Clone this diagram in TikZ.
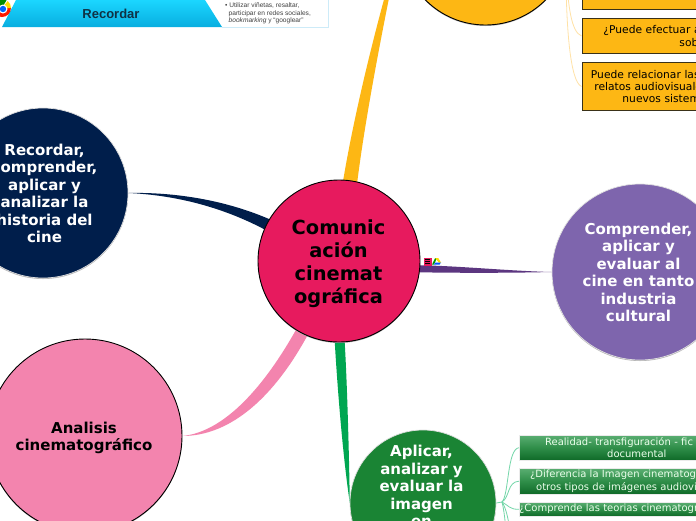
\documentclass[tikz,border=0pt]{standalone}
\usepackage{fontspec}
\setmainfont{DejaVu Sans}
\newfontfamily\banfont{Liberation Sans}
\definecolor{cpink}{HTML}{E71A5E}
\definecolor{cnavy}{HTML}{001E4B}
\definecolor{cpurple}{HTML}{7E65AD}
\definecolor{cdpurple}{HTML}{5C3680}
\definecolor{crose}{HTML}{F384AE}
\definecolor{cgreen}{HTML}{1A8434}
\definecolor{cbgreen}{HTML}{00A651}
\definecolor{cyellow}{HTML}{FDB714}
\definecolor{cthiny}{HTML}{FFE2A6}
\definecolor{cthing}{HTML}{72D6A8}
\definecolor{gtop}{HTML}{5AAE72}
\definecolor{gmid}{HTML}{2F8E49}
\definecolor{gbot}{HTML}{0F6A28}
\definecolor{bantop}{HTML}{1BD6FF}
\definecolor{banbot}{HTML}{08AEE0}
\definecolor{bantxt}{HTML}{0F3244}
\definecolor{banline}{HTML}{CDEBF8}
\definecolor{yborder}{HTML}{3A3118}
\tikzset{
  x=1pt,y=-1pt,
  softshadow/.style={preaction={draw=none,fill=black!30,transform canvas={yshift=-1pt}}},
  bubble/.style={circle,inner sep=0pt,minimum size=#1,softshadow},
  blackring/.style={draw=black,line width=0.9pt},
  paleRing/.style={draw=black!12,line width=0.7pt},
  bigtext/.style={align=center,inner sep=0pt,font=\bfseries\fontsize{15}{17.4}\selectfont},
  ybox/.style={anchor=north west,draw=yborder,fill=cyellow,line width=0.9pt,inner sep=0pt,
    text width=300pt,align=left,text=black,softshadow,font=\fontsize{10.7}{12.4}\selectfont},
  gbox/.style={anchor=north west,draw=black!8,line width=0.3pt,top color=gtop,bottom color=gbot,
    middle color=gmid,inner sep=0pt,text width=300pt,align=left,text=white!92!green,
    font=\fontsize{10}{12.2}\selectfont},
  thiny/.style={draw=cthiny,line width=0.8pt},
  thing/.style={draw=cthing,line width=0.8pt},
}
\begin{document}
\begin{tikzpicture}
\useasboundingbox (0,0) rectangle (696,520);
\clip (0,0) rectangle (696,520);
\fill[white] (0,0) rectangle (696,520);

% banner picture, top left
\node[inner sep=0pt,minimum width=106pt,minimum height=27pt,anchor=north west,fill=white] (panel) at (222,0) {};
\draw[draw=banline,line width=0.8pt] (328,0) -- (328,27) -- (222,27);
\shade[top color=bantop,bottom color=banbot] (16,0) -- (205,0) -- (222,27) -- (2,27) -- cycle;
\fill[red!80!orange] (-7,8) arc[start angle=180,end angle=0,radius=9] -- cycle;
\fill[yellow!80!orange] (2,8) -- (11,8) arc[start angle=0,end angle=-50,radius=9] -- cycle;
\fill[green!55!black] (-7,8) arc[start angle=180,end angle=300,radius=9] -- (2,8) -- cycle;
\fill[white] (3,9) circle[radius=4.5];
\fill[blue!60!cyan] (3,9) circle[radius=3.2];
\node[inner sep=0pt,text=bantxt,font=\banfont\bfseries\fontsize{13}{14}\selectfont] (bantitle) at (111,13.5) {Recordar};
\node[anchor=west,inner sep=0pt,align=left,text=black!75,font=\banfont\fontsize{6.6}{7.3}\selectfont] (bantext) at (225,13.5)
  {\textbullet\ Utilizar viñetas, resaltar,\\ \hspace*{3.5pt}participar en redes sociales,\\ \hspace*{3.5pt}\textit{bookmarking} y “googlear”};

% circles (placed first so the connectors can name them; painted again on top)
\path (339,261) node[circle,inner sep=0pt,minimum size=162pt] (central) {};
\path (43,193) node[circle,inner sep=0pt,minimum size=170pt] (recordar) {};
\path (640,272) node[circle,inner sep=0pt,minimum size=176pt] (comprender) {};
\path (85,436) node[circle,inner sep=0pt,minimum size=194pt] (analisis) {};
\path (423,503) node[circle,inner sep=0pt,minimum size=146pt] (aplicar) {};
\path (485.5,-59.5) node[circle,inner sep=0pt,minimum size=169pt] (amarillo) {};

% boxes
\node[ybox,minimum height=36pt] (y0) at (581.5,-27) {};
\node[ybox,minimum height=35pt] (y1) at (581.5,18) {\hspace*{21.5pt}¿Puede efectuar a\\ \hspace*{97.5pt}sob};
\node[ybox,minimum height=48pt] (y2) at (581.5,62) {\hspace*{9pt}Puede relacionar las\\ \hspace*{12.5pt}relatos audiovisuale\\ \hspace*{40.5pt}nuevos sistem};
\node[gbox,minimum height=25pt] (g1) at (519,435) {\hspace*{26pt}Realidad- transfiguración - fic\\ \hspace*{88pt}documental};
\node[gbox,minimum height=26pt] (g2) at (519,468) {\hspace*{11pt}¿Diferencia la Imagen cinematog\\ \hspace*{17pt}otros tipos de imágenes audiovi};
\node[gbox,minimum height=14pt] (g3) at (519,502) {¿Comprende las teorias cinematogr};

% tapered branches
\fill[cnavy] (recordar.0) .. controls (175,192) and (225,200) .. (central.149)
  -- (central.157) .. controls (222,207) and (175,195) .. (recordar.0) -- cycle;
\fill[crose] (analisis.0) .. controls (225,432) and (265,385) .. (central.238)
  -- (central.247) .. controls (275,395) and (232,436) .. (analisis.0) -- cycle;
\fill[cbgreen] (central.267) .. controls (337,380) and (342,450) .. (aplicar.180)
  -- (aplicar.180) .. controls (349,450) and (347,380) .. (central.274) -- cycle;
\fill[cdpurple] (central.357) .. controls (460,266) and (510,271) .. (comprender.180)
  -- (comprender.180) .. controls (510,273) and (460,273) .. (central.352) -- cycle;
\fill[cyellow] (central.87) .. controls (355,110) and (377,20) .. (amarillo.180)
  -- (amarillo.180) .. controls (382,30) and (365,120) .. (central.77) -- cycle;

% thin branches
\coordinate (jg) at (502,502);
\coordinate (jy) at (566,-30);
\coordinate (gd1) at (506,530);
\coordinate (gd2) at (510,530);
\draw[thing] (aplicar.0) -- (jg);
\draw[thing] (jg) .. controls (509,495) and (507,449) .. (g1.west);
\draw[thing] (jg) .. controls (510,497) and (507,482) .. (g2.west);
\draw[thing] (jg) .. controls (508,505) and (510,510) .. (g3.west);
\draw[thing] (jg) .. controls (504,510) and (505,520) .. (gd1);
\draw[thing] (jg) .. controls (506,508) and (508,518) .. (gd2);
\draw[thiny] (jy) .. controls (568,5) and (571,32) .. (y1.west);
\draw[thiny] (jy) .. controls (566,25) and (570,82) .. (y2.west);

% circles
\node[bubble=162pt,blackring,fill=cpink] (centralc) at (central) {};
\node[bubble=170pt,paleRing,fill=cnavy] (recordarc) at (recordar) {};
\node[bubble=176pt,paleRing,fill=cpurple] (comprenderc) at (comprender) {};
\node[bubble=194pt,blackring,fill=crose] (analisisc) at (analisis) {};
\node[bubble=146pt,paleRing,fill=cgreen] (aplicarc) at (aplicar) {};
\node[bubble=169pt,blackring,fill=cyellow] (amarilloc) at (amarillo) {};

% circle texts
\node[align=center,inner sep=0pt,font=\bfseries\fontsize{19.4}{23}\selectfont] (tcentral) at (338.5,263.5) {Comunic\\ación\\cinemat\\ográfica};
\node[bigtext,text=white] (trecordar) at (44.5,193.5) {Recordar,\\comprender,\\aplicar y\\analizar la\\historia del\\cine};
\node[bigtext,text=white] (tcomprender) at (638.5,272.5) {Comprender,\\aplicar y\\evaluar al\\cine en tanto\\industria\\cultural};
\node[bigtext,text=black] (tanalisis) at (84,438) {Analisis\\cinematográfico};
\node[bigtext,text=white] (taplicar) at (421.5,486) {Aplicar,\\analizar y\\evaluar la\\imagen\\en};

% small icons
\node[draw=cpink,fill=cpink,inner sep=0pt,minimum size=7pt,anchor=north west] (iconmenu) at (423.5,257.5) {};
\foreach \yy in {259.2,261,262.8}{\draw[black,line width=0.55pt] (425,\yy) -- (430,\yy);}
\fill[green!60!black] (432,264.5) -- (435.2,258) -- (437,258) -- (434,264.5) -- cycle;
\fill[yellow!80!orange] (435.2,258) -- (438.2,258) -- (441,262.5) -- (438.8,262.5) -- cycle;
\fill[blue!65!cyan] (434,264.5) -- (435.2,262.5) -- (441,262.5) -- (439.6,264.5) -- cycle;
\end{tikzpicture}
\end{document}
